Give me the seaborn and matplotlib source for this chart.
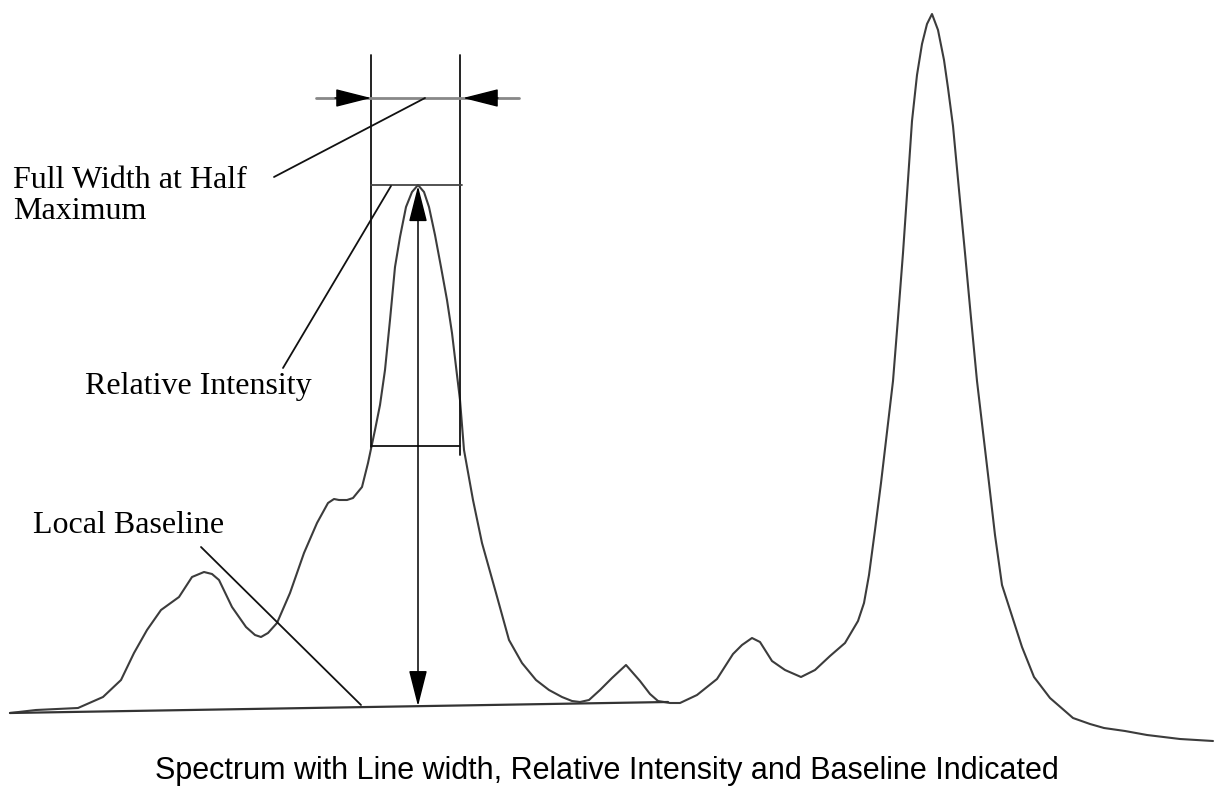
import numpy as np
import seaborn as sns
import matplotlib.pyplot as plt

# spectrum trace (x, y in picture units, y grows downward)
trace_x = [10, 36, 78, 103, 121, 134, 147, 161, 179, 192, 204, 212, 219, 232, 246, 255,
           261, 268, 277, 290, 304, 317, 328, 334, 339, 347, 353, 362, 368, 375, 380, 385,
           390, 395, 400, 406, 412, 418, 424, 429, 435, 441, 447, 452, 457, 460, 464, 473,
           482, 496, 509, 522, 536, 549, 562, 572, 580, 589, 600, 612, 626, 640, 650, 658,
           670, 680, 697, 717, 733, 742, 752, 760, 772, 785, 801, 815, 830, 845, 858, 864,
           869, 875, 881, 887, 893, 898, 903, 908, 912, 917, 922, 927, 932, 938, 944, 948,
           953, 959, 965, 971, 977, 983, 989, 995, 1002, 1012, 1022, 1034, 1050, 1073, 1090,
           1104, 1125, 1147, 1180, 1213]
trace_y = [713, 710, 708, 697, 680, 653, 630, 610, 597, 577, 572, 574, 580, 607, 627, 635,
           637, 633, 623, 593, 553, 523, 503, 499, 500, 500, 498, 487, 463, 430, 405, 370,
           320, 267, 237, 207, 192, 185, 192, 207, 235, 267, 300, 333, 375, 400, 450, 500,
           543, 593, 640, 663, 680, 690, 697, 701, 702, 700, 690, 678, 665, 681, 694, 701,
           703, 703, 695, 679, 654, 645, 638, 642, 661, 670, 677, 670, 656, 643, 621, 603,
           575, 530, 483, 432, 381, 318, 253, 180, 121, 75, 44, 24, 14, 30, 60, 88,
           126, 190, 253, 318, 381, 432, 483, 535, 585, 616, 647, 677, 698, 718, 724,
           728, 731, 735, 739, 741]

# local baseline under the central peak
base_x = [10, 668]
base_y = [713, 702]

# central peak measurements
peak_x = 418
peak_top = 185
fwhm_left = 371
fwhm_right = 460
base_at_peak = np.interp(peak_x, base_x, base_y)
half_level = (peak_top + base_at_peak) / 2

caption = "Spectrum with Line width, Relative Intensity and Baseline Indicated"

sns.set_theme(style="white")
fig = plt.figure(figsize=(12.15, 7.97), dpi=100)
ax = fig.add_axes([0, 0, 1, 1])

sns.lineplot(x=trace_x, y=trace_y, sort=False, estimator=None, color="#3c3c3c",
             linewidth=1.5, ax=ax)
sns.lineplot(x=base_x, y=base_y, sort=False, estimator=None, color="#333333",
             linewidth=1.6, ax=ax)

ink = "#111111"
# FWHM box
ax.plot([fwhm_left, fwhm_left], [55, half_level + 1], color=ink, lw=1.3)
ax.plot([fwhm_right, fwhm_right], [55, half_level + 9], color=ink, lw=1.3)
ax.plot([fwhm_left, fwhm_right + 2], [peak_top, peak_top], color="#444444", lw=1.3)
ax.plot([fwhm_left, fwhm_right], [half_level, half_level], color=ink, lw=1.3)

# width dimension line with inward arrows
ax.plot([316, 519], [98, 98], color="#888888", lw=2)
head = dict(arrowstyle="-|>,head_length=1.5,head_width=0.38", color="black",
            mutation_scale=15, shrinkA=0, shrinkB=0, lw=1)
ax.annotate("", xy=(fwhm_left, 98), xytext=(335, 98), arrowprops=head)
ax.annotate("", xy=(fwhm_right + 3, 98), xytext=(498, 98), arrowprops=head)

# relative intensity double arrow
ax.annotate("", xy=(peak_x, peak_top + 1), xytext=(peak_x, base_at_peak),
            arrowprops=dict(arrowstyle="<|-|>,head_length=1.5,head_width=0.38",
                            color="black", mutation_scale=15, shrinkA=0, shrinkB=0,
                            lw=1.1))

# leader lines
ax.plot([274, 425], [177, 98], color=ink, lw=1.3)
ax.plot([283, 391], [368, 186], color=ink, lw=1.3)
ax.plot([201, 361], [547, 705], color=ink, lw=1.3)

serif = ["Liberation Serif", "DejaVu Serif"]
ax.text(13, 219, "Full Width at Half\nMaximum", family=serif, fontsize=23,
        va="baseline", ha="left", linespacing=1.08, color="black")
ax.text(85, 394, "Relative Intensity", family=serif, fontsize=23,
        va="baseline", ha="left", color="black")
ax.text(33, 533, "Local Baseline", family=serif, fontsize=23,
        va="baseline", ha="left", color="black")
ax.text(607, 779, caption, family=["Liberation Sans", "DejaVu Sans"], fontsize=22,
        va="baseline", ha="center", color="black")

ax.set_xlim(0, 1215)
ax.set_ylim(797, 0)
ax.axis("off")
fig.savefig("out.png", dpi=100, facecolor="white")
